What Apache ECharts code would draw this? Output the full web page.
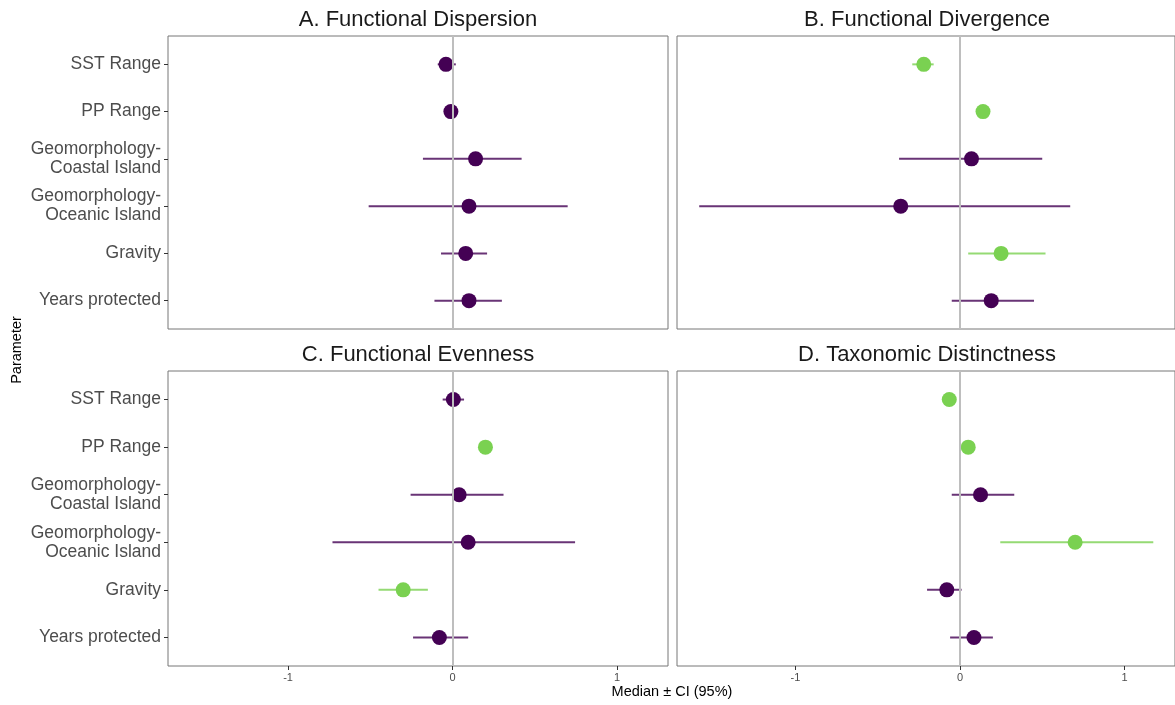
<!DOCTYPE html>
<html>
<head>
    <meta charset="utf-8">
    <title>Median ± CI</title>
    <script src="https://cdn.jsdelivr.net/npm/echarts@6/dist/echarts.min.js"></script>
    <style>
        body { margin: 0; background: #fff; }
    </style>
</head>
<body>
    <div id="main" style="width: 1175px;height:705px;"></div>
    <script type="text/javascript">
        // parameters, top to bottom
        var categories = ['SST Range', 'PP Range', 'Geomorphology-\nCoastal Island',
            'Geomorphology-\nOceanic Island', 'Gravity', 'Years protected'];
        var panelTitles = ['A. Functional Dispersion', 'B. Functional Divergence',
            'C. Functional Evenness', 'D. Taxonomic Distinctness'];
        var xTicks = [-1, 0, 1];

        // A. Functional Dispersion
        var dispMed = [-0.04, -0.01, 0.14, 0.10, 0.08, 0.10];
        var dispLo = [-0.09, -0.03, -0.18, -0.51, -0.07, -0.11];
        var dispHi = [0.02, 0.01, 0.42, 0.70, 0.21, 0.30];
        // B. Functional Divergence
        var divMed = [-0.22, 0.14, 0.07, -0.36, 0.25, 0.19];
        var divLo = [-0.29, 0.11, -0.37, -1.585, 0.05, -0.05];
        var divHi = [-0.16, 0.17, 0.50, 0.67, 0.52, 0.45];
        // C. Functional Evenness
        var evenMed = [0.005, 0.20, 0.04, 0.095, -0.30, -0.08];
        var evenLo = [-0.06, 0.17, -0.255, -0.73, -0.45, -0.24];
        var evenHi = [0.07, 0.23, 0.31, 0.745, -0.15, 0.095];
        // D. Taxonomic Distinctness
        var taxMed = [-0.065, 0.05, 0.125, 0.70, -0.08, 0.085];
        var taxLo = [-0.09, 0.02, -0.05, 0.245, -0.20, -0.06];
        var taxHi = [-0.04, 0.08, 0.33, 1.175, 0.01, 0.20];

        var panels = [
            [dispMed, dispLo, dispHi],
            [divMed, divLo, divHi],
            [evenMed, evenLo, evenHi],
            [taxMed, taxLo, taxHi]
        ];

        var FONT = 'Liberation Sans, Arial, sans-serif';
        var PURPLE = '#440154';
        var GREEN = '#7AD151';

        var grids = [
            { left: 168, top: 36, width: 500, height: 293 },
            { left: 677, top: 36, width: 498, height: 293 },
            { left: 168, top: 371, width: 500, height: 295 },
            { left: 677, top: 371, width: 498, height: 295 }
        ];
        var xRanges = [[-1.73, 1.31], [-1.72, 1.307], [-1.73, 1.31], [-1.72, 1.307]];

        var myChart = echarts.init(document.getElementById('main'));

        var grid = [], xAxis = [], yAxis = [], series = [], graphic = [];

        grids.forEach(function (g, i) {
            var isBottom = i >= 2, isLeft = i % 2 === 0;
            grid.push({
                left: g.left, top: g.top, width: g.width, height: g.height,
                show: true, borderColor: '#777', borderWidth: 1, backgroundColor: '#fff'
            });
            xAxis.push({
                type: 'value', gridIndex: i, min: xRanges[i][0], max: xRanges[i][1],
                splitLine: { show: false },
                axisLine: { show: false, onZero: false },
                axisTick: { show: isBottom, customValues: xTicks, length: 4, lineStyle: { color: '#333' } },
                axisLabel: {
                    show: isBottom, customValues: xTicks, margin: 6,
                    fontSize: 11, color: '#4d4d4d', fontFamily: FONT
                }
            });
            yAxis.push({
                type: 'value', gridIndex: i, inverse: true, min: -0.6, max: 5.6,
                splitLine: { show: false },
                axisLine: { show: false, onZero: false },
                axisTick: { show: isLeft, customValues: [0, 1, 2, 3, 4, 5], length: 4, lineStyle: { color: '#333' } },
                axisLabel: {
                    show: isLeft, customValues: [0, 1, 2, 3, 4, 5], margin: 7,
                    fontSize: 17.5, lineHeight: 19, color: '#4d4d4d', fontFamily: FONT,
                    align: 'right', padding: [4, 0, 0, 0],
                    formatter: function (v) { return categories[Math.round(v)]; }
                }
            });

            var med = panels[i][0], lo = panels[i][1], hi = panels[i][2];
            var rows = med.map(function (m, k) {
                var sig = lo[k] > 0 || hi[k] < 0;
                return { value: [m, k, lo[k], hi[k]], itemStyle: { color: sig ? GREEN : PURPLE, opacity: 1 } };
            });

            // zero reference line
            series.push({
                type: 'scatter', xAxisIndex: i, yAxisIndex: i, data: [], z: 1,
                markLine: {
                    silent: true, symbol: 'none', label: { show: false },
                    lineStyle: { color: '#bebebe', width: 2, type: 'solid' },
                    data: [{ xAxis: 0 }]
                }
            });
            // CI bars
            series.push({
                type: 'custom', xAxisIndex: i, yAxisIndex: i, z: 2,
                data: rows,
                renderItem: function (params, api) {
                    var a = api.coord([api.value(2), api.value(1)]);
                    var b = api.coord([api.value(3), api.value(1)]);
                    return {
                        type: 'line',
                        shape: { x1: a[0], y1: a[1], x2: b[0], y2: b[1] },
                        style: { stroke: api.visual('color'), lineWidth: 2, opacity: 0.8 }
                    };
                }
            });
            // medians
            series.push({
                type: 'scatter', xAxisIndex: i, yAxisIndex: i, z: 3,
                symbolSize: 15, data: rows
            });

            graphic.push({
                type: 'text', x: g.left + 250, y: g.top - 16,
                style: {
                    text: panelTitles[i], fontSize: 22, fill: '#1a1a1a', fontFamily: FONT,
                    align: 'center', verticalAlign: 'middle'
                }
            });
        });

        graphic.push({
            type: 'text', x: 672, y: 692,
            style: { text: 'Median ± CI (95%)', fontSize: 14.5, fill: '#000', fontFamily: FONT, align: 'center', verticalAlign: 'middle' }
        });
        graphic.push({
            type: 'text', x: 17, y: 350, rotation: Math.PI / 2,
            style: { text: 'Parameter', fontSize: 14.5, fill: '#000', fontFamily: FONT, align: 'center', verticalAlign: 'middle' }
        });

        var option = {
            animation: false,
            grid: grid,
            xAxis: xAxis,
            yAxis: yAxis,
            series: series,
            graphic: graphic
        };
        myChart.setOption(option);
    </script>
</body>
</html>
